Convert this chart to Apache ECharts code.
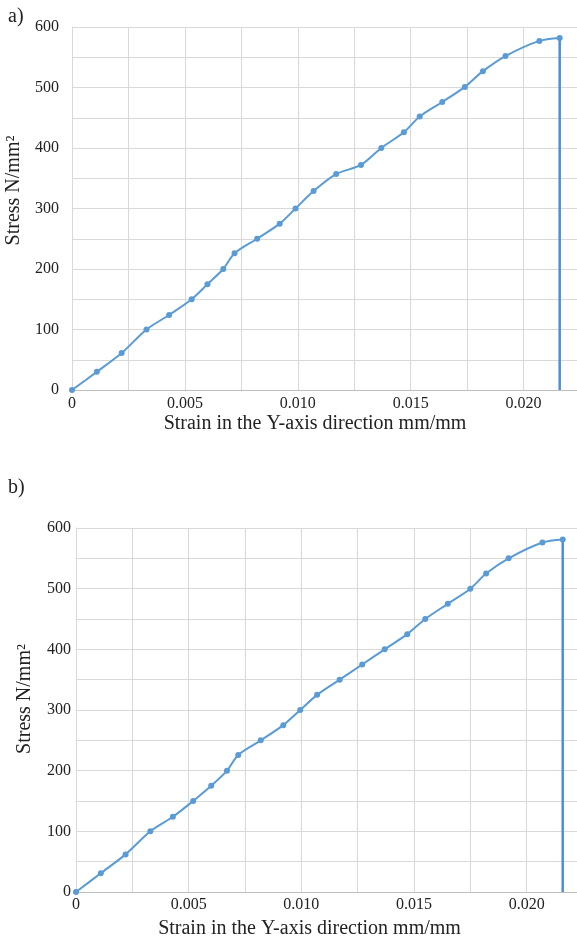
<!DOCTYPE html>
<html>
<head>
<meta charset="utf-8">
<script src="https://cdn.jsdelivr.net/npm/echarts@6/dist/echarts.min.js"></script>
<style>
html,body{margin:0;padding:0;background:#fff;}
#c{width:577px;height:941px;}
</style>
</head>
<body>
<div id="c"></div>
<script>
// Panel a) data
var strainA = [0, 0.0011, 0.0022, 0.0033, 0.0043, 0.0053, 0.0060, 0.0067, 0.0072, 0.0082, 0.0092, 0.0099, 0.0107, 0.0117, 0.0128, 0.0137, 0.0147, 0.0154, 0.0164, 0.0174, 0.0182, 0.0192, 0.0207, 0.0216];
var stressA = [0, 30, 61, 100, 124, 150, 175, 200, 226, 250, 275, 300, 329, 357, 372, 400, 426, 452, 476, 501, 527, 552, 577, 582];
// Panel b) data
var strainB = [0, 0.0011, 0.0022, 0.0033, 0.0043, 0.0052, 0.0060, 0.0067, 0.0072, 0.0082, 0.0092, 0.00995, 0.0107, 0.0117, 0.0127, 0.0137, 0.0147, 0.0155, 0.0165, 0.0175, 0.0182, 0.0192, 0.0207, 0.0216];
var stressB = [0, 31, 62, 100, 124, 150, 175, 200, 226, 250, 275, 300, 325, 350, 375, 400, 425, 450, 475, 500, 525, 550, 576, 581];
// Tick labels
var yTickLabels = [0, 100, 200, 300, 400, 500, 600];
var xTickLabels = ['0', '0.005', '0.010', '0.015', '0.020'];
var panelLabels = ['a)', 'b)'];
var xTitle = 'Strain in the Y-axis direction mm/mm';
var yTitle = 'Stress N/mm\u00B2';

var FONT = '"Liberation Serif", "Times New Roman", serif';
var BLUE = '#5B9BD5';

function pairs(xs, ys) { return xs.map(function (x, i) { return [x, ys[i]]; }); }
function drop(xs, ys) { var n = xs.length - 1; return [[xs[n], ys[n]], [xs[n], 0]]; }

function xFmt(v) {
  var k = Math.round(v / 0.0025);
  if (k % 2 !== 0) return '';
  return xTickLabels[k / 2] || '';
}
function yFmt(v) { return yTickLabels.indexOf(v) >= 0 ? String(v) : ''; }

function xAxis(gi, gap, padRight, margin) {
  return {
    type: 'value', gridIndex: gi, min: 0, max: 0.0225, interval: 0.0025,
    axisLine: { show: true, lineStyle: { color: '#bfbfbf', width: 1 } },
    axisTick: { show: false },
    splitLine: { show: true, lineStyle: { color: '#d9d9d9', width: 1 } },
    axisLabel: { formatter: xFmt, color: '#222', fontFamily: FONT, fontSize: 16, margin: margin },
    name: xTitle, nameLocation: 'middle', nameGap: gap,
    nameTextStyle: { color: '#222', fontFamily: FONT, fontSize: 20, padding: [0, padRight, 0, 0] }
  };
}
function yAxis(gi, gap, padLeft, margin) {
  return {
    type: 'value', gridIndex: gi, min: 0, max: 600, interval: 50,
    axisLine: { show: true, lineStyle: { color: '#d9d9d9', width: 1 } },
    axisTick: { show: false },
    splitLine: { show: true, lineStyle: { color: '#d9d9d9', width: 1 } },
    axisLabel: { formatter: yFmt, color: '#222', fontFamily: FONT, fontSize: 16, margin: margin },
    name: yTitle, nameLocation: 'middle', nameGap: gap,
    nameTextStyle: { color: '#222', fontFamily: FONT, fontSize: 20, padding: [0, 0, 0, padLeft] }
  };
}
function lineSeries(idx, data) {
  return {
    type: 'line', xAxisIndex: idx, yAxisIndex: idx, data: data, smooth: 0.3,
    symbol: 'circle', symbolSize: 6, z: 3,
    lineStyle: { color: BLUE, width: 2 }, itemStyle: { color: BLUE }
  };
}
function dropSeries(idx, data) {
  return {
    type: 'line', xAxisIndex: idx, yAxisIndex: idx, data: data, symbol: 'none', z: 3,
    lineStyle: { color: '#4A90D9', width: 2.5 }
  };
}

var chart = echarts.init(document.getElementById('c'), null, { renderer: 'canvas' });
chart.setOption({
  animation: false,
  backgroundColor: '#fff',
  grid: [
    { left: 72, top: 27, height: 363, width: 508, containLabel: false, outerBoundsMode: 'none' },
    { left: 76, top: 528, height: 364, width: 507, containLabel: false, outerBoundsMode: 'none' }
  ],
  xAxis: [xAxis(0, 24, 22, 6), xAxis(1, 27, 40, 5)],
  yAxis: [yAxis(0, 37, 36, 13), yAxis(1, 41, 22, 5)],
  graphic: [
    { type: 'text', left: 8, top: 7, style: { text: panelLabels[0], font: '20px ' + FONT, fill: '#222' } },
    { type: 'text', left: 8, top: 478, style: { text: panelLabels[1], font: '20px ' + FONT, fill: '#222' } }
  ],
  series: [
    lineSeries(0, pairs(strainA, stressA)),
    dropSeries(0, drop(strainA, stressA)),
    lineSeries(1, pairs(strainB, stressB)),
    dropSeries(1, drop(strainB, stressB))
  ]
});
</script>
</body>
</html>
